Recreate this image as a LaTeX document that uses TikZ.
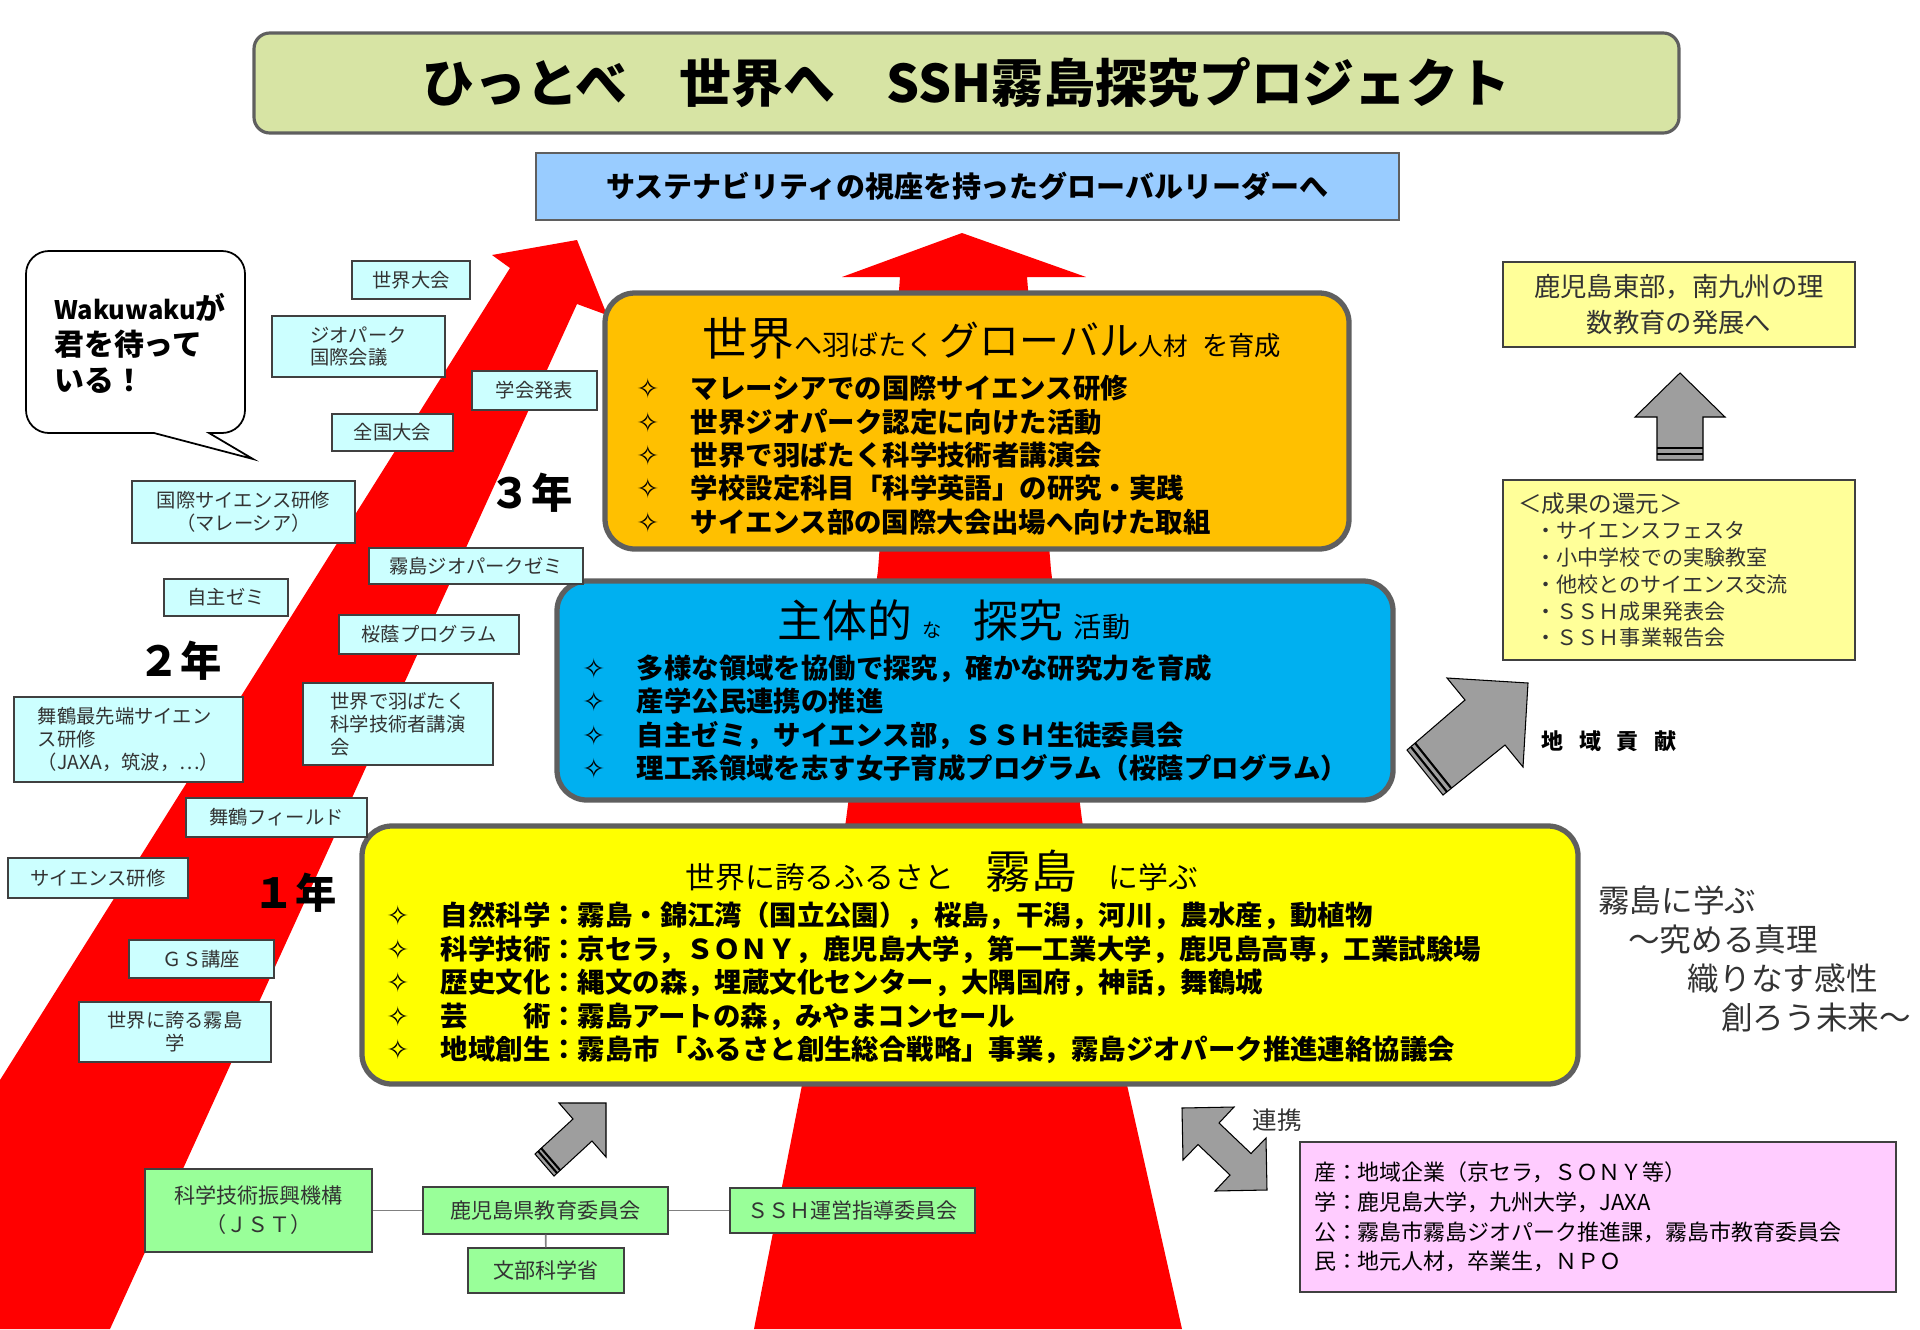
\documentclass[tikz,border=0pt]{standalone}
\usepackage{fontspec}
\setmainfont{Noto Sans CJK JP}
\newfontfamily\starfont{DejaVu Sans}
\usetikzlibrary{positioning}

\definecolor{arrowred}{HTML}{FF0000}
\definecolor{titlegreen}{HTML}{D7E4A4}
\definecolor{goalblue}{HTML}{99CCFF}
\definecolor{stageorange}{HTML}{FFC000}
\definecolor{stageblue}{HTML}{00B0F0}
\definecolor{stageyellow}{HTML}{FFFF00}
\definecolor{framegray}{HTML}{5F5F5F}
\definecolor{cyanbox}{HTML}{CCFFFF}
\definecolor{notebox}{HTML}{FFFF99}
\definecolor{pinkbox}{HTML}{FFCCFF}
\definecolor{greenbox}{HTML}{99FF99}
\definecolor{boxline}{HTML}{404040}
\definecolor{textgray}{HTML}{333333}
\definecolor{arrowgray}{HTML}{9E9E9E}

\newcommand{\fsz}[2]{\fontsize{#1pt}{#2pt}\selectfont}
\newcommand{\itm}[1]{\makebox[31pt][l]{{\mdseries\starfont ✧}}#1}

\begin{document}
\begin{tikzpicture}[
  x=0.02cm, y=-0.02cm,
  wh/.style 2 args={minimum width=#1*0.02cm, minimum height=#2*0.02cm},
  stage/.style={draw=framegray, line width=3pt, rounded corners=17pt, inner sep=0pt},
  tagbox/.style={draw=boxline, fill=cyanbox, line width=0.8pt, inner sep=0pt, text=textgray, align=center, font=\fsz{11}{13}},
  gbox/.style={draw=boxline, fill=greenbox, line width=0.8pt, inner sep=0pt, text=textgray, align=center, font=\fsz{12}{16.5}},
  note/.style={draw=boxline, fill=notebox, line width=0.8pt, inner sep=0pt, text=textgray, align=center},
  items/.style={anchor=west, inner sep=0pt, align=left, font=\fsz{15.6}{19}\bfseries},
  yearlabel/.style={font=\fsz{23.5}{26}\bfseries, inner sep=0pt},
  blockarrow/.style={fill=arrowgray, draw=black, line width=0.6pt, line join=miter},
  link/.style={draw=gray, line width=0.9pt}
]
\path[use as bounding box] (0,0) rectangle (1920,1329);

% Red arrows behind everything
\fill[arrowred] (962,233) -- (1086,277) -- (1027,277) -- (1051,570) -- (1082,820) -- (1127,1085)
  -- (1182,1329) -- (754,1329) -- (802,1085) -- (846,820) -- (878,570) -- (900,277) -- (842,277) -- cycle;
\fill[arrowred] (0,1080) -- (510,268) -- (492,255) -- (577,240) -- (607,315) -- (577,304)
  -- (110,1329) -- (0,1329) -- cycle;

% Title and goal
\node[draw=framegray, line width=1.8pt, rounded corners=9pt, fill=titlegreen, wh={1425}{100},
  font=\fsz{29.5}{32}\bfseries] (title) at (966.5,83) {ひっとべ　世界へ　SSH霧島探究プロジェクト};
\node[draw=framegray, line width=0.8pt, fill=goalblue, wh={863}{67},
  font=\fsz{16.5}{18}\bfseries] (goal) at (967.5,186.5) {サステナビリティの視座を持ったグローバルリーダーへ};

% Three stages
\node[stage, fill=stageorange, wh={744}{256}] (global) at (977,421) {};
\node[stage, fill=stageblue, wh={836}{219}] (inquiry) at (975,690.5) {};
\node[stage, fill=stageyellow, wh={1216}{258}] (learn) at (970,955) {};

\node[anchor=base, inner sep=0pt] (globalhead) at (992,355)
  {{\fsz{26}{28}世界}{\fsz{16}{18}へ羽ばたく}\hspace{3pt}{\fsz{22.7}{26}グローバル}{\fsz{14}{16}人材}\hspace{8pt}{\fsz{15}{18}を育成}};
\node[items] (globalitems) at (636,455) {%
  \itm{マレーシアでの国際サイエンス研修}\\
  \itm{世界ジオパーク認定に向けた活動}\\
  \itm{世界で羽ばたく科学技術者講演会}\\
  \itm{学校設定科目「科学英語」の研究・実践}\\
  \itm{サイエンス部の国際大会出場へ向けた取組}};

\node[anchor=base, inner sep=0pt] (inquiryhead) at (954,637)
  {{\fsz{25.5}{28}主体的}\hspace{6pt}{\fsz{11}{12}な}\hspace{18pt}{\fsz{25.5}{28}探究}\hspace{6pt}{\fsz{16}{18}活動}};
\node[items] (inquiryitems) at (582,718) {%
  \itm{多様な領域を協働で探究，確かな研究力を育成}\\
  \itm{産学公民連携の推進}\\
  \itm{自主ゼミ，サイエンス部，ＳＳＨ生徒委員会}\\
  \itm{理工系領域を志す女子育成プログラム（桜蔭プログラム）}};

\node[anchor=base, inner sep=0pt] (learnhead) at (942,888)
  {{\fsz{17}{20}世界に誇るふるさと}\hspace{18pt}{\fsz{26}{28}霧島}\hspace{18pt}{\fsz{17}{20}に学ぶ}};
\node[items] (learnitems) at (386,983) {%
  \itm{自然科学：霧島・錦江湾（国立公園），桜島，干潟，河川，農水産，動植物}\\
  \itm{科学技術：京セラ，ＳＯＮＹ，鹿児島大学，第一工業大学，鹿児島高専，工業試験場}\\
  \itm{歴史文化：縄文の森，埋蔵文化センター，大隅国府，神話，舞鶴城}\\
  \itm{芸　　術：霧島アートの森，みやまコンセール}\\
  \itm{地域創生：霧島市「ふるさと創生総合戦略」事業，霧島ジオパーク推進連絡協議会}};

% Activities along the left arrow
\node[tagbox, wh={118}{38}] (worldmeet) at (411,280) {世界大会};
\node[tagbox, wh={173}{61}, align=left] (geoconf) at (358.5,346.5) {ジオパーク\\国際会議};
\node[tagbox, wh={125}{39}] (present) at (534.5,390.5) {学会発表};
\node[tagbox, wh={121}{37}] (national) at (392.5,432.5) {全国大会};
\node[tagbox, wh={223}{62}] (malaysia) at (243.5,512) {国際サイエンス研修\\（マレーシア）};
\node[tagbox, wh={214}{36}] (geozemi) at (476,566) {霧島ジオパークゼミ};
\node[tagbox, wh={124}{37}] (selfzemi) at (226,597.5) {自主ゼミ};
\node[tagbox, wh={180}{39}] (ouin) at (429,634.5) {桜蔭プログラム};
\node[tagbox, wh={190}{82}, align=left] (lecture) at (398,724) {世界で羽ばたく\\科学技術者講演\\会};
\node[tagbox, wh={229}{85}, align=left] (maizuru) at (128.5,739.5) {舞鶴最先端サイエン\\ス研修\\（JAXA，筑波，…）};
\node[tagbox, wh={181}{39}] (field) at (276.5,817.5) {舞鶴フィールド};
\node[tagbox, wh={180}{40}] (training) at (98,878) {サイエンス研修};
\node[tagbox, wh={145}{38}] (gs) at (201.5,959) {ＧＳ講座};
\node[tagbox, wh={192}{60}] (pride) at (175,1032) {世界に誇る霧島\\学};

\node[yearlabel] (year3) at (531,493) {３年};
\node[yearlabel] (year2) at (180,661) {２年};
\node[yearlabel] (year1) at (295,893) {１年};

% Speech bubble
\draw[fill=white, draw=black, line width=1pt] (154,433) [rounded corners=13pt] -- (26,433) -- (26,251)
  -- (245,251) -- (245,433) [sharp corners] -- (209,433) -- (253,459) -- cycle;
\node[anchor=west, inner sep=0pt, align=left, font=\fsz{17}{20.5}\bfseries] (waku) at (54,343)
  {{\fsz{14.5}{20.5}Wakuwaku}が\\君を待って\\いる！};

% Right side
\node[note, wh={352}{85}, font=\fsz{15}{21}] (future) at (1679,304.5) {鹿児島東部，南九州の理\\数教育の発展へ};
\node[note, wh={352}{180}, align=left, text width=6.44cm, inner xsep=0.3cm, font=\fsz{12}{15.2}] (result) at (1679,570)
  {{\fsz{13.4}{15.2}＜成果の還元＞}\\
   \hspace{10pt}・サイエンスフェスタ\\
   \hspace{10pt}・小中学校での実験教室\\
   \hspace{10pt}・他校とのサイエンス交流\\
   \hspace{10pt}・ＳＳＨ成果発表会\\
   \hspace{10pt}・ＳＳＨ事業報告会};
\filldraw[blockarrow] (1680,373) -- (1725,417) -- (1703,417) -- (1703,460) -- (1657,460) -- (1657,417) -- (1635,417) -- cycle;
\draw[line width=1.2pt] (1657,448) -- (1703,448) (1657,454) -- (1703,454);

\filldraw[blockarrow] (1528,683) -- (1447,678) -- (1465,700) -- (1407,750) -- (1443,795) -- (1505,745) -- (1523,767) -- cycle;
\draw[line width=1.2pt] (1411,747) -- (1447,792) (1415,743) -- (1451,788);
\node[anchor=west, inner sep=0pt, font=\fsz{12.5}{14}\bfseries] (contrib) at (1541,741) {地\hspace{9pt}域\hspace{9pt}貢\hspace{9pt}献};

\node[anchor=west, inner sep=0pt, align=left, font=\fsz{18}{22.2}, text=textgray] (motto) at (1598,959)
  {霧島に学ぶ\\\hspace{17pt}〜究める真理\\\hspace{51pt}織りなす感性\\\hspace{70pt}創ろう未来〜};

% Partners
\filldraw[blockarrow] (1182,1108) -- (1234,1107) -- (1219,1123) -- (1251,1153.5) -- (1266,1138) -- (1267,1190)
  -- (1215,1191) -- (1230,1175) -- (1198,1144.5) -- (1183,1160) -- cycle;
\node[font=\fsz{14}{16}, text=textgray] (renkei) at (1277,1120) {連携};
\node[draw=boxline, fill=pinkbox, line width=0.8pt, wh={596}{150}, align=left, text width=11.36cm,
  inner xsep=0.28cm, font=\fsz{12.5}{16.8}] (partners) at (1598,1217)
  {産：地域企業（京セラ，ＳＯＮＹ等）\\
   学：鹿児島大学，九州大学，JAXA\\
   公：霧島市霧島ジオパーク推進課，霧島市教育委員会\\
   民：地元人材，卒業生，ＮＰＯ};

% Support organisations
\filldraw[blockarrow] (606,1103) -- (559,1103) -- (573,1119) -- (535,1154) -- (554,1176) -- (592,1141) -- (606,1157) -- cycle;
\draw[line width=1.2pt] (538,1151) -- (557,1173) (541,1148) -- (560,1170);

\node[gbox, wh={227}{83}] (jst) at (258.5,1210.5) {科学技術振興機構\\（ＪＳＴ）};
\node[gbox, wh={245}{47}] (prefboard) at (545.5,1210.5) {鹿児島県教育委員会};
\node[gbox, wh={245}{45}] (sshboard) at (852.5,1210.5) {ＳＳＨ運営指導委員会};
\node[gbox, wh={156}{45}] (mext) at (546,1270.5) {文部科学省};
\draw[link] (jst) -- (prefboard);
\draw[link] (prefboard) -- (sshboard);
\draw[link] (prefboard) -- (mext);

\end{tikzpicture}
\end{document}
